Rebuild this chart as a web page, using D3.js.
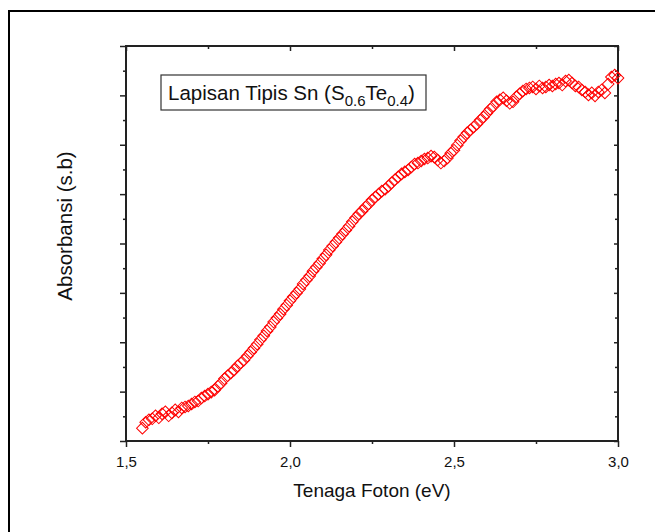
<!DOCTYPE html>
<html>
<head>
<meta charset="utf-8">
<script src="https://cdn.jsdelivr.net/npm/d3@7"></script>
<style>
  body { margin: 0; background: #fff; }
  svg { display: block; font-family: "Liberation Sans", Arial, sans-serif; }
  .axis path { display: none; }
  .axis line { stroke: #222; stroke-width: 1.5; }
  .axis text { fill: #111; font-size: 15px; font-family: "Liberation Sans", Arial, sans-serif; }
</style>
</head>
<body>
<div id="chart"></div>
<script>
// photon energy (eV)
const energy = [
  1.55, 1.56, 1.57, 1.58, 1.59, 1.60, 1.61, 1.62, 1.63, 1.64,
  1.65, 1.66, 1.67, 1.68, 1.69, 1.70, 1.71, 1.72, 1.73, 1.74,
  1.75, 1.76, 1.77, 1.78, 1.79, 1.80, 1.81, 1.82, 1.83, 1.84,
  1.85, 1.86, 1.87, 1.88, 1.89, 1.90, 1.91, 1.92, 1.93, 1.94,
  1.95, 1.96, 1.97, 1.98, 1.99, 2.00, 2.01, 2.02, 2.03, 2.04,
  2.05, 2.06, 2.07, 2.08, 2.09, 2.10, 2.11, 2.12, 2.13, 2.14,
  2.15, 2.16, 2.17, 2.18, 2.19, 2.20, 2.21, 2.22, 2.23, 2.24,
  2.25, 2.26, 2.27, 2.28, 2.29, 2.30, 2.31, 2.32, 2.33, 2.34,
  2.35, 2.36, 2.37, 2.38, 2.39, 2.40, 2.41, 2.42, 2.43, 2.44,
  2.45, 2.46, 2.47, 2.48, 2.49, 2.50, 2.51, 2.52, 2.53, 2.54,
  2.55, 2.56, 2.57, 2.58, 2.59, 2.60, 2.61, 2.62, 2.63, 2.64,
  2.65, 2.66, 2.67, 2.68, 2.69, 2.70, 2.71, 2.72, 2.73, 2.74,
  2.75, 2.76, 2.77, 2.78, 2.79, 2.80, 2.81, 2.82, 2.83, 2.84,
  2.85, 2.86, 2.87, 2.88, 2.89, 2.90, 2.91, 2.92, 2.93, 2.94,
  2.95, 2.96, 2.97, 2.98, 2.99, 3.00
];

// absorbance (arbitrary units)
const absorbance = [
  0.026, 0.038, 0.043, 0.045, 0.051, 0.047, 0.055, 0.059, 0.051, 0.057,
  0.063, 0.059, 0.067, 0.069, 0.071, 0.075, 0.079, 0.081, 0.087, 0.091,
  0.095, 0.099, 0.103, 0.111, 0.117, 0.126, 0.132, 0.138, 0.144, 0.152,
  0.158, 0.164, 0.172, 0.180, 0.188, 0.196, 0.205, 0.213, 0.223, 0.231,
  0.241, 0.249, 0.257, 0.267, 0.275, 0.284, 0.292, 0.300, 0.308, 0.318,
  0.326, 0.334, 0.344, 0.352, 0.360, 0.369, 0.377, 0.387, 0.395, 0.403,
  0.411, 0.419, 0.427, 0.435, 0.444, 0.452, 0.460, 0.466, 0.474, 0.480,
  0.488, 0.494, 0.500, 0.506, 0.510, 0.516, 0.523, 0.529, 0.535, 0.541,
  0.545, 0.549, 0.555, 0.561, 0.563, 0.567, 0.571, 0.573, 0.577, 0.575,
  0.569, 0.563, 0.567, 0.573, 0.583, 0.589, 0.599, 0.608, 0.616, 0.624,
  0.630, 0.636, 0.642, 0.650, 0.656, 0.664, 0.672, 0.678, 0.687, 0.691,
  0.695, 0.689, 0.684, 0.687, 0.697, 0.703, 0.709, 0.713, 0.715, 0.717,
  0.713, 0.719, 0.715, 0.717, 0.721, 0.719, 0.723, 0.725, 0.721, 0.729,
  0.731, 0.725, 0.719, 0.717, 0.711, 0.707, 0.701, 0.705, 0.699, 0.707,
  0.711, 0.705, 0.723, 0.737, 0.741, 0.735
];

const xMajorTicks = [1.5, 2.0, 2.5, 3.0];
const xMinorTicks = [1.75, 2.25, 2.75];
const yMajorTicks = [0, 0.1, 0.2, 0.3, 0.4, 0.5, 0.6, 0.7, 0.8];
const yMinorTicks = [0.05, 0.15, 0.25, 0.35, 0.45, 0.55, 0.65, 0.75];

const width = 655, height = 532;
const margin = { top: 46, right: 37, bottom: 91, left: 126 };
const innerWidth = width - margin.left - margin.right;
const innerHeight = height - margin.top - margin.bottom;

const svg = d3.select('#chart').append('svg')
  .attr('width', width)
  .attr('height', height);

// outer frame (runs past the right and bottom edges)
svg.append('rect')
  .attr('x', 9).attr('y', 11)
  .attr('width', 700).attr('height', 600)
  .attr('fill', 'none')
  .attr('stroke', '#000')
  .attr('stroke-width', 2);

const plot = svg.append('g')
  .attr('transform', `translate(${margin.left},${margin.top})`);

const x = d3.scaleLinear().domain([1.5, 3.0]).range([0, innerWidth]);
const y = d3.scaleLinear().domain([0, 0.8]).range([innerHeight, 0]);

const comma = d => d3.format('.1f')(d).replace('.', ',');

// helper for unlabelled tick sets
function ticksOnly(g, axis, transform) {
  const a = g.append('g').attr('class', 'axis');
  if (transform) a.attr('transform', transform);
  a.call(axis.tickFormat(''));
  a.selectAll('text').remove();
}

// bottom axis, labelled
plot.append('g').attr('class', 'axis')
  .attr('transform', `translate(0,${innerHeight})`)
  .call(d3.axisBottom(x).tickValues(xMajorTicks).tickSize(6).tickPadding(9).tickFormat(comma));
ticksOnly(plot, d3.axisBottom(x).tickValues(xMinorTicks).tickSize(3), `translate(0,${innerHeight})`);

// top axis, ticks inward
ticksOnly(plot, d3.axisBottom(x).tickValues(xMajorTicks).tickSize(5));
ticksOnly(plot, d3.axisBottom(x).tickValues(xMinorTicks).tickSize(3));

// left axis, no labels
ticksOnly(plot, d3.axisLeft(y).tickValues(yMajorTicks).tickSize(6));
ticksOnly(plot, d3.axisLeft(y).tickValues(yMinorTicks).tickSize(3));

// right axis, ticks inward
ticksOnly(plot, d3.axisLeft(y).tickValues(yMajorTicks).tickSize(4), `translate(${innerWidth},0)`);
ticksOnly(plot, d3.axisLeft(y).tickValues(yMinorTicks).tickSize(3), `translate(${innerWidth},0)`);

// plot frame
plot.append('rect')
  .attr('width', innerWidth)
  .attr('height', innerHeight)
  .attr('fill', 'none')
  .attr('stroke', '#222')
  .attr('stroke-width', 2);

// data markers: hollow diamonds
const diamond = d3.symbol().type(d3.symbolSquare).size(68);
plot.append('g')
  .selectAll('path')
  .data(energy.map((e, i) => ({ e, a: absorbance[i] })))
  .join('path')
    .attr('d', diamond)
    .attr('transform', d => `translate(${x(d.e)},${y(d.a)}) rotate(45)`)
    .attr('fill', 'none')
    .attr('stroke', '#ff0000')
    .attr('stroke-width', 1);

// legend box
const legend = svg.append('g');
legend.append('rect')
  .attr('x', 161).attr('y', 75)
  .attr('width', 265).attr('height', 35)
  .attr('fill', '#fff')
  .attr('stroke', '#333')
  .attr('stroke-width', 1.2);
const lt = legend.append('text')
  .attr('x', 168).attr('y', 100)
  .style('font-size', '20.5px')
  .attr('fill', '#111');
lt.append('tspan').text('Lapisan Tipis Sn (S');
lt.append('tspan').text('0.6').style('font-size', '15px').attr('dy', 6);
lt.append('tspan').text('Te').attr('dy', -6);
lt.append('tspan').text('0.4').style('font-size', '15px').attr('dy', 6);
lt.append('tspan').text(')').attr('dy', -6);

// axis titles
svg.append('text')
  .attr('x', margin.left + innerWidth / 2)
  .attr('y', 497)
  .attr('text-anchor', 'middle')
  .style('font-size', '19px')
  .attr('fill', '#111')
  .text('Tenaga Foton (eV)');

svg.append('text')
  .attr('transform', 'translate(72,226) rotate(-90)')
  .attr('text-anchor', 'middle')
  .style('font-size', '20.5px')
  .attr('fill', '#111')
  .text('Absorbansi (s.b)');
</script>
</body>
</html>
